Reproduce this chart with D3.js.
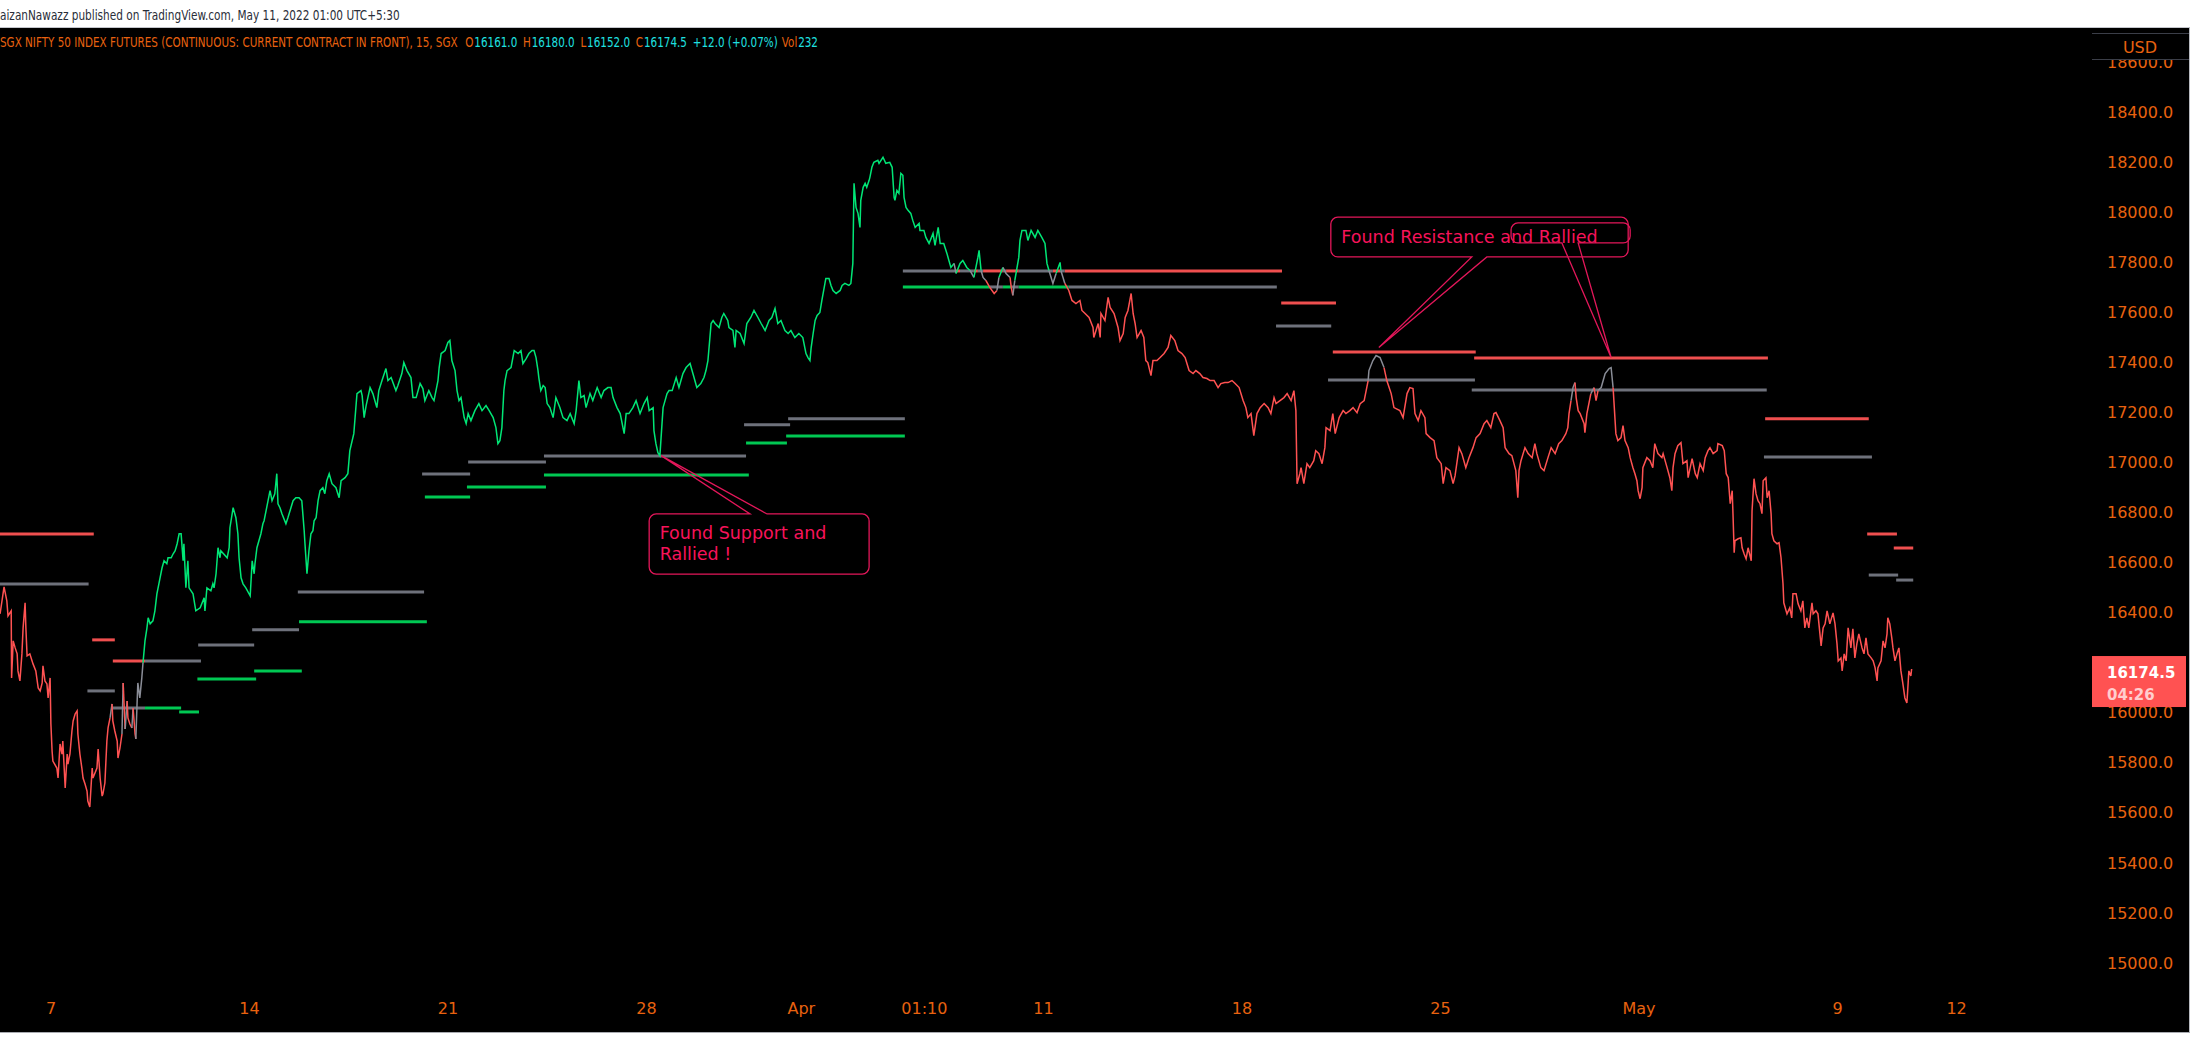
<!DOCTYPE html>
<html><head><meta charset="utf-8">
<script src="https://cdn.jsdelivr.net/npm/d3@7"></script>
<style>
html,body{margin:0;padding:0;background:#fff;overflow:hidden;}
svg{display:block;}
</style></head>
<body>
<svg id="c" width="2200" height="1040"></svg>
<script>
// ---------- DATA ----------
// price series: [trading-day index (0 = Mon 7 Mar), price]
const pricePoints = [[-1.27,16395],[-1.17,16503],[-1.10,16447],[-1.07,16387],[-0.99,16407],[-0.98,16139],[-0.94,16287],[-0.89,16259],[-0.84,16235],[-0.82,16167],[-0.77,16127],[-0.72,16235],[-0.69,16339],[-0.64,16439],[-0.62,16339],[-0.59,16227],[-0.52,16235],[-0.44,16195],[-0.37,16167],[-0.31,16099],[-0.26,16087],[-0.21,16119],[-0.19,16187],[-0.14,16127],[-0.09,16115],[-0.06,16059],[-0.01,16139],[0.01,15955],[0.04,15847],[0.06,15807],[0.16,15779],[0.19,15739],[0.24,15875],[0.29,15835],[0.31,15887],[0.37,15699],[0.42,15835],[0.44,15795],[0.49,15835],[0.54,15927],[0.57,15967],[0.62,15995],[0.67,16007],[0.69,15915],[0.74,15835],[0.79,15779],[0.82,15739],[0.87,15715],[0.92,15687],[0.94,15647],[0.99,15623],[1.05,15779],[1.07,15739],[1.17,15779],[1.20,15855],[1.25,15739],[1.30,15667],[1.32,15675],[1.37,15719],[1.42,15887],[1.45,15939],[1.50,15979],[1.55,16035],[1.57,15967],[1.62,15927],[1.68,15887],[1.70,15819],[1.75,15859],[1.80,15915],[1.83,16119],[1.88,15935],[1.93,16047],[1.95,15979],[2.00,15955],[2.05,15939],[2.08,16019],[2.13,15915],[2.15,15895],[2.18,16035],[2.20,16119],[2.25,16059],[2.30,16139],[2.33,16199],[2.38,16287],[2.43,16339],[2.46,16379],[2.51,16355],[2.58,16367],[2.63,16407],[2.68,16475],[2.73,16515],[2.81,16579],[2.86,16607],[2.93,16595],[2.96,16619],[3.04,16619],[3.09,16635],[3.14,16647],[3.19,16675],[3.24,16715],[3.29,16715],[3.34,16607],[3.36,16675],[3.41,16499],[3.46,16607],[3.49,16499],[3.59,16475],[3.66,16407],[3.77,16419],[3.87,16459],[3.89,16407],[3.94,16499],[4.04,16487],[4.09,16515],[4.12,16499],[4.17,16555],[4.22,16659],[4.27,16619],[4.29,16647],[4.45,16619],[4.50,16659],[4.52,16739],[4.60,16819],[4.67,16779],[4.72,16715],[4.75,16619],[4.80,16539],[4.85,16515],[4.92,16499],[5.03,16467],[5.08,16607],[5.13,16555],[5.15,16595],[5.20,16659],[5.30,16715],[5.35,16755],[5.38,16767],[5.48,16847],[5.53,16887],[5.58,16847],[5.65,16875],[5.70,16955],[5.73,16835],[5.78,16819],[5.83,16795],[5.93,16755],[5.98,16779],[6.11,16847],[6.18,16859],[6.26,16859],[6.33,16847],[6.39,16727],[6.41,16675],[6.46,16555],[6.51,16647],[6.56,16715],[6.61,16727],[6.64,16767],[6.69,16779],[6.74,16847],[6.79,16887],[6.86,16899],[6.91,16875],[6.96,16927],[7.02,16955],[7.09,16915],[7.19,16899],[7.27,16859],[7.32,16927],[7.42,16939],[7.49,16955],[7.54,17047],[7.64,17115],[7.72,17275],[7.82,17287],[7.85,17267],[7.90,17179],[7.95,17227],[8.05,17299],[8.12,17275],[8.22,17219],[8.27,17287],[8.35,17327],[8.45,17375],[8.50,17327],[8.58,17339],[8.70,17287],[8.75,17307],[8.85,17355],[8.90,17399],[8.98,17367],[9.08,17339],[9.13,17259],[9.21,17259],[9.31,17315],[9.38,17295],[9.43,17247],[9.53,17287],[9.61,17259],[9.66,17247],[9.76,17327],[9.79,17379],[9.84,17435],[9.94,17447],[10.01,17479],[10.06,17487],[10.11,17407],[10.19,17367],[10.24,17287],[10.29,17247],[10.34,17259],[10.42,17179],[10.47,17155],[10.52,17195],[10.59,17167],[10.69,17207],[10.79,17235],[10.87,17207],[10.97,17227],[11.05,17207],[11.15,17179],[11.22,17139],[11.27,17075],[11.32,17087],[11.37,17139],[11.42,17287],[11.45,17327],[11.50,17367],[11.60,17379],[11.68,17447],[11.78,17435],[11.85,17447],[11.90,17395],[11.98,17415],[12.05,17435],[12.13,17447],[12.18,17447],[12.23,17419],[12.28,17367],[12.30,17339],[12.35,17287],[12.41,17307],[12.46,17299],[12.51,17235],[12.58,17219],[12.66,17179],[12.73,17259],[12.83,17219],[12.91,17179],[13.01,17167],[13.09,17195],[13.19,17155],[13.24,17207],[13.31,17327],[13.36,17259],[13.44,17267],[13.49,17219],[13.59,17275],[13.66,17247],[13.77,17299],[13.87,17259],[13.94,17287],[14.04,17299],[14.12,17299],[14.17,17259],[14.27,17219],[14.35,17195],[14.45,17115],[14.50,17195],[14.57,17195],[14.67,17219],[14.75,17247],[14.85,17195],[14.95,17235],[15.03,17259],[15.08,17207],[15.18,17219],[15.20,17127],[15.25,17075],[15.30,17039],[15.35,17027],[15.38,17099],[15.43,17219],[15.48,17247],[15.53,17275],[15.58,17287],[15.66,17287],[15.76,17339],[15.83,17299],[15.93,17355],[16.01,17379],[16.11,17395],[16.21,17339],[16.28,17299],[16.38,17315],[16.46,17339],[16.51,17367],[16.56,17407],[16.61,17499],[16.64,17555],[16.69,17567],[16.74,17555],[16.84,17539],[16.91,17579],[16.96,17595],[17.06,17567],[17.09,17539],[17.19,17527],[17.24,17459],[17.27,17527],[17.37,17515],[17.47,17475],[17.54,17555],[17.64,17579],[17.72,17607],[17.82,17579],[17.90,17555],[18.00,17527],[18.10,17567],[18.17,17579],[18.25,17615],[18.32,17555],[18.40,17567],[18.50,17527],[18.58,17515],[18.65,17527],[18.75,17499],[18.85,17515],[18.95,17499],[18.98,17475],[19.03,17435],[19.08,17419],[19.13,17407],[19.16,17459],[19.21,17515],[19.26,17567],[19.31,17587],[19.38,17599],[19.43,17647],[19.53,17735],[19.61,17735],[19.66,17707],[19.71,17687],[19.79,17675],[19.89,17687],[19.94,17707],[20.01,17715],[20.11,17707],[20.16,17715],[20.21,17795],[20.24,18115],[20.29,18019],[20.34,17995],[20.39,17939],[20.41,18047],[20.47,18099],[20.52,18115],[20.56,18099],[20.62,18127],[20.64,18139],[20.69,18179],[20.74,18199],[20.84,18207],[20.87,18195],[20.97,18219],[21.04,18195],[21.14,18199],[21.20,18179],[21.25,18059],[21.27,18047],[21.32,18087],[21.37,18075],[21.42,18155],[21.47,18147],[21.50,18059],[21.55,18019],[21.60,18007],[21.67,17995],[21.72,17967],[21.78,17939],[21.88,17955],[21.90,17927],[22.00,17927],[22.05,17899],[22.13,17875],[22.23,17915],[22.28,17867],[22.36,17939],[22.41,17875],[22.50,17875],[22.58,17835],[22.63,17807],[22.68,17779],[22.76,17795],[22.81,17755],[22.91,17795],[22.98,17807],[23.08,17779],[23.16,17767],[23.26,17739],[23.36,17819],[23.39,17847],[23.44,17767],[23.49,17739],[23.56,17727],[23.66,17699],[23.77,17675],[23.84,17687],[23.89,17739],[23.99,17779],[24.07,17755],[24.17,17739],[24.20,17699],[24.24,17667],[24.29,17727],[24.39,17819],[24.42,17887],[24.47,17927],[24.57,17927],[24.62,17887],[24.70,17927],[24.80,17899],[24.87,17927],[24.97,17899],[25.05,17875],[25.10,17795],[25.15,17767],[25.25,17715],[25.33,17755],[25.43,17799],[25.45,17767],[25.55,17715],[25.65,17687],[25.73,17647],[25.83,17635],[25.93,17647],[25.98,17607],[26.06,17595],[26.16,17579],[26.26,17539],[26.28,17499],[26.39,17555],[26.44,17499],[26.46,17595],[26.56,17567],[26.64,17659],[26.69,17619],[26.79,17595],[26.89,17539],[26.94,17487],[27.02,17515],[27.07,17579],[27.14,17607],[27.22,17675],[27.27,17595],[27.32,17555],[27.37,17499],[27.47,17527],[27.54,17499],[27.59,17407],[27.64,17399],[27.72,17347],[27.77,17407],[27.87,17407],[27.95,17419],[28.05,17435],[28.15,17459],[28.22,17507],[28.32,17487],[28.40,17447],[28.50,17435],[28.58,17419],[28.68,17367],[28.78,17355],[28.85,17367],[28.95,17355],[29.03,17339],[29.13,17335],[29.21,17327],[29.31,17327],[29.41,17299],[29.48,17315],[29.58,17319],[29.66,17319],[29.76,17327],[29.84,17315],[29.94,17299],[30.04,17247],[30.11,17219],[30.16,17179],[30.24,17195],[30.31,17107],[30.39,17195],[30.47,17219],[30.57,17235],[30.67,17219],[30.74,17195],[30.82,17259],[30.87,17235],[30.97,17247],[31.07,17259],[31.15,17275],[31.25,17247],[31.32,17287],[31.37,17207],[31.40,16915],[31.47,16955],[31.50,16979],[31.57,16915],[31.65,16995],[31.72,16979],[31.82,17007],[31.87,17047],[31.95,17035],[32.03,16995],[32.10,17059],[32.13,17139],[32.23,17127],[32.30,17195],[32.36,17115],[32.46,17179],[32.56,17207],[32.63,17195],[32.73,17207],[32.81,17219],[32.91,17199],[32.99,17235],[33.09,17247],[33.19,17327],[33.21,17367],[33.31,17407],[33.39,17427],[33.49,17419],[33.59,17379],[33.66,17327],[33.77,17275],[33.84,17219],[33.99,17207],[34.07,17179],[34.17,17275],[34.24,17299],[34.32,17295],[34.37,17195],[34.45,17167],[34.52,17207],[34.62,17179],[34.65,17115],[34.75,17099],[34.85,17087],[34.92,17019],[35.03,16995],[35.08,16915],[35.15,16979],[35.25,16967],[35.33,16915],[35.38,16947],[35.48,17059],[35.55,17035],[35.65,16979],[35.73,17019],[35.83,17059],[35.91,17099],[36.01,17115],[36.11,17155],[36.18,17167],[36.28,17139],[36.36,17195],[36.41,17199],[36.51,17167],[36.59,17139],[36.64,17059],[36.74,17035],[36.81,17027],[36.91,16967],[36.96,16859],[36.99,16967],[37.04,17007],[37.14,17059],[37.22,17035],[37.32,17019],[37.39,17075],[37.44,17035],[37.54,16979],[37.62,16967],[37.72,17019],[37.80,17059],[37.90,17035],[37.99,17075],[38.07,17087],[38.17,17115],[38.22,17139],[38.25,17195],[38.30,17247],[38.35,17299],[38.40,17319],[38.43,17259],[38.48,17207],[38.53,17195],[38.63,17155],[38.65,17119],[38.70,17195],[38.80,17275],[38.88,17299],[38.93,17247],[38.98,17287],[39.06,17299],[39.11,17327],[39.16,17355],[39.26,17375],[39.31,17379],[39.36,17299],[39.38,17247],[39.43,17115],[39.48,17087],[39.56,17099],[39.61,17147],[39.66,17087],[39.74,17059],[39.79,17019],[39.86,16979],[39.91,16955],[39.96,16927],[39.99,16887],[40.04,16855],[40.09,16899],[40.11,16979],[40.21,17019],[40.29,17007],[40.36,16979],[40.41,17075],[40.49,17035],[40.59,17019],[40.62,17035],[40.72,16979],[40.79,16939],[40.84,16887],[40.87,16979],[40.92,17035],[40.99,17067],[41.07,17079],[41.12,16995],[41.22,17007],[41.25,16939],[41.35,17015],[41.43,16955],[41.48,16939],[41.55,16995],[41.63,16967],[41.68,17019],[41.75,17047],[41.80,17059],[41.88,17035],[41.98,17047],[42.00,17075],[42.11,17067],[42.16,17047],[42.21,16955],[42.26,16939],[42.31,16835],[42.36,16887],[42.38,16795],[42.41,16639],[42.43,16687],[42.51,16695],[42.58,16699],[42.61,16659],[42.66,16635],[42.71,16615],[42.76,16659],[42.84,16607],[42.86,16807],[42.91,16935],[42.96,16875],[43.01,16847],[43.06,16835],[43.11,16795],[43.14,16927],[43.21,16939],[43.24,16859],[43.29,16887],[43.34,16795],[43.36,16715],[43.41,16687],[43.49,16675],[43.54,16679],[43.59,16619],[43.64,16515],[43.66,16439],[43.74,16395],[43.81,16419],[43.86,16379],[43.89,16475],[43.97,16475],[44.02,16435],[44.09,16407],[44.14,16447],[44.19,16339],[44.24,16379],[44.29,16339],[44.37,16439],[44.40,16395],[44.47,16407],[44.52,16395],[44.60,16267],[44.65,16339],[44.70,16355],[44.75,16407],[44.82,16355],[44.90,16399],[44.95,16355],[45.00,16275],[45.03,16207],[45.10,16219],[45.13,16167],[45.18,16235],[45.23,16207],[45.28,16339],[45.35,16259],[45.40,16335],[45.45,16219],[45.50,16275],[45.55,16315],[45.63,16259],[45.68,16235],[45.73,16299],[45.78,16235],[45.86,16219],[45.91,16207],[45.96,16179],[46.01,16127],[46.03,16179],[46.11,16207],[46.16,16287],[46.21,16259],[46.26,16315],[46.28,16379],[46.33,16355],[46.38,16299],[46.41,16259],[46.46,16207],[46.51,16235],[46.56,16259],[46.61,16167],[46.66,16115],[46.71,16059],[46.76,16039],[46.78,16087],[46.81,16167],[46.86,16147],[46.88,16174.5]];

// upper / lower level lines (start day, end day, price)
const upperStart = [-1.4, 1.05, 1.57, 3.72, 5.08, 6.23, 9.36, 10.52, 12.43, 17.47, 18.58, 21.47, 31.00, 32.30, 35.86, 43.19, 45.76, 46.43];
const upperEnd   = [1.09, 1.62, 3.79, 5.13, 6.26, 9.41, 10.57, 12.48, 17.52, 18.63, 21.52, 31.02, 32.38, 35.90, 43.26, 45.80, 46.51, 46.92];
const upperValue = [16714, 16291, 16207, 16271, 16331, 16482, 16954, 17002, 17026, 17150, 17174, 17765, 17637, 17441, 17417, 17174, 16714, 16658];
const lowerStart = [-1.4, 0.93, 1.55, 3.24, 3.70, 5.13, 6.26, 9.43, 10.49, 12.43, 17.52, 18.53, 21.47, 30.87, 32.18, 35.80, 43.16, 45.80, 46.49];
const lowerEnd   = [0.96, 1.62, 3.29, 3.74, 5.18, 6.33, 9.48, 10.57, 12.48, 17.59, 18.55, 21.52, 30.89, 32.26, 35.88, 43.23, 45.88, 46.54, 46.92];
const lowerValue = [16514, 16087, 16019, 16003, 16135, 16167, 16363, 16862, 16902, 16950, 17078, 17106, 17701, 17545, 17329, 17289, 17022, 16550, 16530];

// axes
const yTicks = [15000,15200,15400,15600,15800,16000,16200,16400,16600,16800,17000,17200,17400,17600,17800,18000,18200,18400,18600];
const xTickDays = [0, 5, 10, 15, 18.9, 22, 25, 30, 35, 40, 45, 48];
const xTickLabels = ["7","14","21","28","Apr","01:10","11","18","25","May","9","12"];

// legend / header
const headerText = "aizanNawazz published on TradingView.com, May 11, 2022 01:00 UTC+5:30";
const symbolTitle = "SGX NIFTY 50 INDEX FUTURES (CONTINUOUS: CURRENT CONTRACT IN FRONT), 15, SGX";
const ohlcLabels = ["O","H","L","C"];
const ohlcValues = ["16161.0","16180.0","16152.0","16174.5"];
const changeText = "+12.0 (+0.07%)";
const volumeValue = "232";
const currency = "USD";
const lastPrice = 16174.5;
const countdown = "04:26";

// callouts
const calloutLines = [["Found Support and","Rallied !"],["Found Resistance and Rallied"],[]];
const calloutBox = [[15.08,20.62,16794,16554],[32.25,39.74,17980,17821],[36.79,39.79,17957,17877]]; // dayL, dayR, priceTop, priceBottom
const calloutTail = [[17.62,18.05],[35.80,36.18],[38.07,38.48]];
const calloutTip = [[15.38,17027],[33.46,17459],[39.31,17419]];

// ---------- DRAW ----------
const W=2200,H=1040;
const ORANGE="#e8620f", CYAN="#1fe0e0";
const C = {pg:"#00e676", pr:"#ff5252", pn:"#8a8d97", lr:"#ef4f4f", ln:"#6e717b", lg:"#00c853"};
const svg=d3.select("#c");
const x=d3.scaleLinear().domain([0,48]).range([50.5,1956.1]);
const y=d3.scaleLinear().domain([15000,18400]).range([963,112]);

svg.append("rect").attr("width",W).attr("height",H).attr("fill","#fff");
svg.append("rect").attr("x",0).attr("y",27).attr("width",2189).attr("height",1005).attr("fill","#000");
svg.append("line").attr("x1",0).attr("x2",2190).attr("y1",27.5).attr("y2",27.5).attr("stroke","#c4c6cc");
svg.append("line").attr("x1",2189.5).attr("x2",2189.5).attr("y1",27).attr("y2",1033).attr("stroke","#b8bac0");
svg.append("line").attr("x1",0).attr("x2",2190).attr("y1",1032.5).attr("y2",1032.5).attr("stroke","#a9abb1");

svg.append("defs").append("clipPath").attr("id","plot").append("rect")
  .attr("x",0).attr("y",28).attr("width",2090).attr("height",1004);
const plot=svg.append("g").attr("clip-path","url(#plot)");

const pts=pricePoints.map(([d,v])=>({d,v}));
function segAt(starts,d){let idx=0;for(let i=0;i<starts.length;i++){if(starts[i]<=d+1e-9)idx=i;}return idx;}
let bull=false;
pts.forEach(p=>{
  const u=upperValue[segAt(upperStart,p.d)], l=lowerValue[segAt(lowerStart,p.d)];
  p.color = p.v>u ? "pg" : (p.v<l ? "pr" : "pn");
  if(p.v>u) bull=true; else if(p.v<l) bull=false;
  p.bull=bull;
});
function latest(t){let r=pts[0];for(const p of pts){if(p.d<=t+1e-9)r=p;else break;}return r;}

function drawLevels(starts,ends,values,colorFn){
  starts.forEach((s,i)=>{
    const e=ends[i], val=values[i];
    const bps=[s,...pts.filter(p=>p.d>s&&p.d<e).map(p=>p.d),e];
    const pieces=[];
    for(let k=0;k<bps.length-1;k++){
      const c=colorFn(latest(bps[k]),val);
      if(pieces.length&&pieces[pieces.length-1].c===c) pieces[pieces.length-1].e=bps[k+1];
      else pieces.push({s:bps[k],e:bps[k+1],c});
    }
    pieces.forEach(pc=>plot.append("line")
      .attr("x1",x(pc.s)).attr("x2",x(pc.e)).attr("y1",y(val)).attr("y2",y(val))
      .attr("stroke",C[pc.c]).attr("stroke-width",3));
  });
}
drawLevels(upperStart,upperEnd,upperValue,(p,val)=>p.v>val?"ln":"lr");
drawLevels(lowerStart,lowerEnd,lowerValue,(p,val)=>p.bull?"lg":"ln");

// price runs
const runs=[];let cur=null;
for(let i=1;i<pts.length;i++){
  const c=pts[i].color;
  if(!cur||cur.c!==c){cur={c,pts:[pts[i-1]]};runs.push(cur);}
  cur.pts.push(pts[i]);
}
const line=d3.line().x(p=>x(p.d)).y(p=>y(p.v));
runs.forEach(r=>plot.append("path").attr("d",line(r.pts)).attr("fill","none")
  .attr("stroke",C[r.c]).attr("stroke-width",1.5).attr("stroke-linejoin","miter"));

// callouts
const CALL="#e3175a", CALLTXT="#f7135a";
calloutBox.forEach((b,i)=>{
  const L=x(b[0]),R=x(b[1]),T=y(b[2]),B=y(b[3]),r=7;
  const t1=x(calloutTail[i][0]),t2=x(calloutTail[i][1]);
  const tx=x(calloutTip[i][0]),ty=y(calloutTip[i][1]);
  let dpath;
  if(ty<T){
    dpath=`M${t2},${T}L${R-r},${T}A${r},${r} 0 0 1 ${R},${T+r}L${R},${B-r}A${r},${r} 0 0 1 ${R-r},${B}L${L+r},${B}A${r},${r} 0 0 1 ${L},${B-r}L${L},${T+r}A${r},${r} 0 0 1 ${L+r},${T}L${t1},${T}L${tx},${ty}Z`;
  } else {
    dpath=`M${t1},${B}L${L+r},${B}A${r},${r} 0 0 1 ${L},${B-r}L${L},${T+r}A${r},${r} 0 0 1 ${L+r},${T}L${R-r},${T}A${r},${r} 0 0 1 ${R},${T+r}L${R},${B-r}A${r},${r} 0 0 1 ${R-r},${B}L${t2},${B}L${tx},${ty}Z`;
  }
  plot.append("path").attr("d",dpath).attr("fill","none").attr("stroke",CALL).attr("stroke-width",1.3);
  calloutLines[i].forEach((s,k)=>plot.append("text").attr("x",L+10.5).attr("y",T+25.5+k*20.5)
    .attr("font-family","DejaVu Sans").attr("font-size",17.5).attr("fill",CALLTXT).text(s));
});

// last price label geometry (ticks hidden under the label are dropped, as in the reference)
const ly=y(lastPrice), boxTop=ly-13, boxBottom=ly+38;
const visibleTicks=yTicks.filter(t=>!(y(t)>boxTop&&y(t)<boxBottom));

// y axis
const yAxis=d3.axisRight(y).tickValues(visibleTicks).tickFormat(d3.format(".1f")).tickSize(0).tickPadding(15);
const ga=svg.append("g").attr("transform","translate(2092,0)").call(yAxis);
ga.select(".domain").remove();
ga.selectAll("text").attr("font-family","DejaVu Sans").attr("font-size",16).attr("fill",ORANGE);

// USD box
svg.append("rect").attr("x",2092).attr("y",33).attr("width",97).attr("height",26).attr("fill","#000");
svg.append("line").attr("x1",2092).attr("x2",2189).attr("y1",33.5).attr("y2",33.5).attr("stroke","#3b3e48");
svg.append("line").attr("x1",2092).attr("x2",2189).attr("y1",59.5).attr("y2",59.5).attr("stroke","#3b3e48");
svg.append("text").attr("x",2140).attr("y",53).attr("text-anchor","middle").attr("font-family","DejaVu Sans")
  .attr("font-size",16).attr("fill",ORANGE).text(currency);

// last price label
svg.append("rect").attr("x",2092).attr("y",boxTop).attr("width",94).attr("height",boxBottom-boxTop).attr("fill","#ff5252");
svg.append("text").attr("x",2107).attr("y",ly+9).attr("font-family","DejaVu Sans").attr("font-weight","bold")
  .attr("font-size",15).attr("fill","#fff").text(d3.format(".1f")(lastPrice));
svg.append("text").attr("x",2107).attr("y",ly+31).attr("font-family","DejaVu Sans").attr("font-weight","bold")
  .attr("font-size",15).attr("fill","rgba(255,255,255,0.72)").text(countdown);

// x axis
const xAxis=d3.axisBottom(x).tickValues(xTickDays).tickFormat((d,i)=>xTickLabels[i]).tickSize(0).tickPadding(3);
const gx=svg.append("g").attr("transform","translate(0,1000)").call(xAxis);
gx.select(".domain").remove();
gx.selectAll("text").attr("font-family","DejaVu Sans").attr("font-size",16).attr("fill",ORANGE);

// header + legend: pieces laid out sequentially, then the group is squeezed horizontally
const NARROW="'Liberation Sans Narrow','DejaVu Sans Condensed','Liberation Sans',sans-serif";
function row(pieces, yy, totalWidth, size){
  const g=svg.append("g");
  let cx=0;
  pieces.forEach(([s,c,gap])=>{
    cx+=gap||0;
    const t=g.append("text").attr("x",cx).attr("y",yy).attr("font-family",NARROW)
      .attr("font-size",size).attr("fill",c).text(s);
    cx+=t.node().getComputedTextLength();
  });
  g.attr("transform",`scale(${totalWidth/cx},1)`);
}
row([[headerText,"#2a2e39"]],20,400,14);
const legendPieces=[[symbolTitle,ORANGE]];
ohlcLabels.forEach((l,i)=>{legendPieces.push([l,ORANGE,i===0?9:7]);legendPieces.push([ohlcValues[i],CYAN,1]);});
legendPieces.push([changeText,CYAN,7]);
legendPieces.push(["Vol",ORANGE,5]);
legendPieces.push([volumeValue,CYAN,1]);
row(legendPieces,47,818,14);
</script>
</body></html>
